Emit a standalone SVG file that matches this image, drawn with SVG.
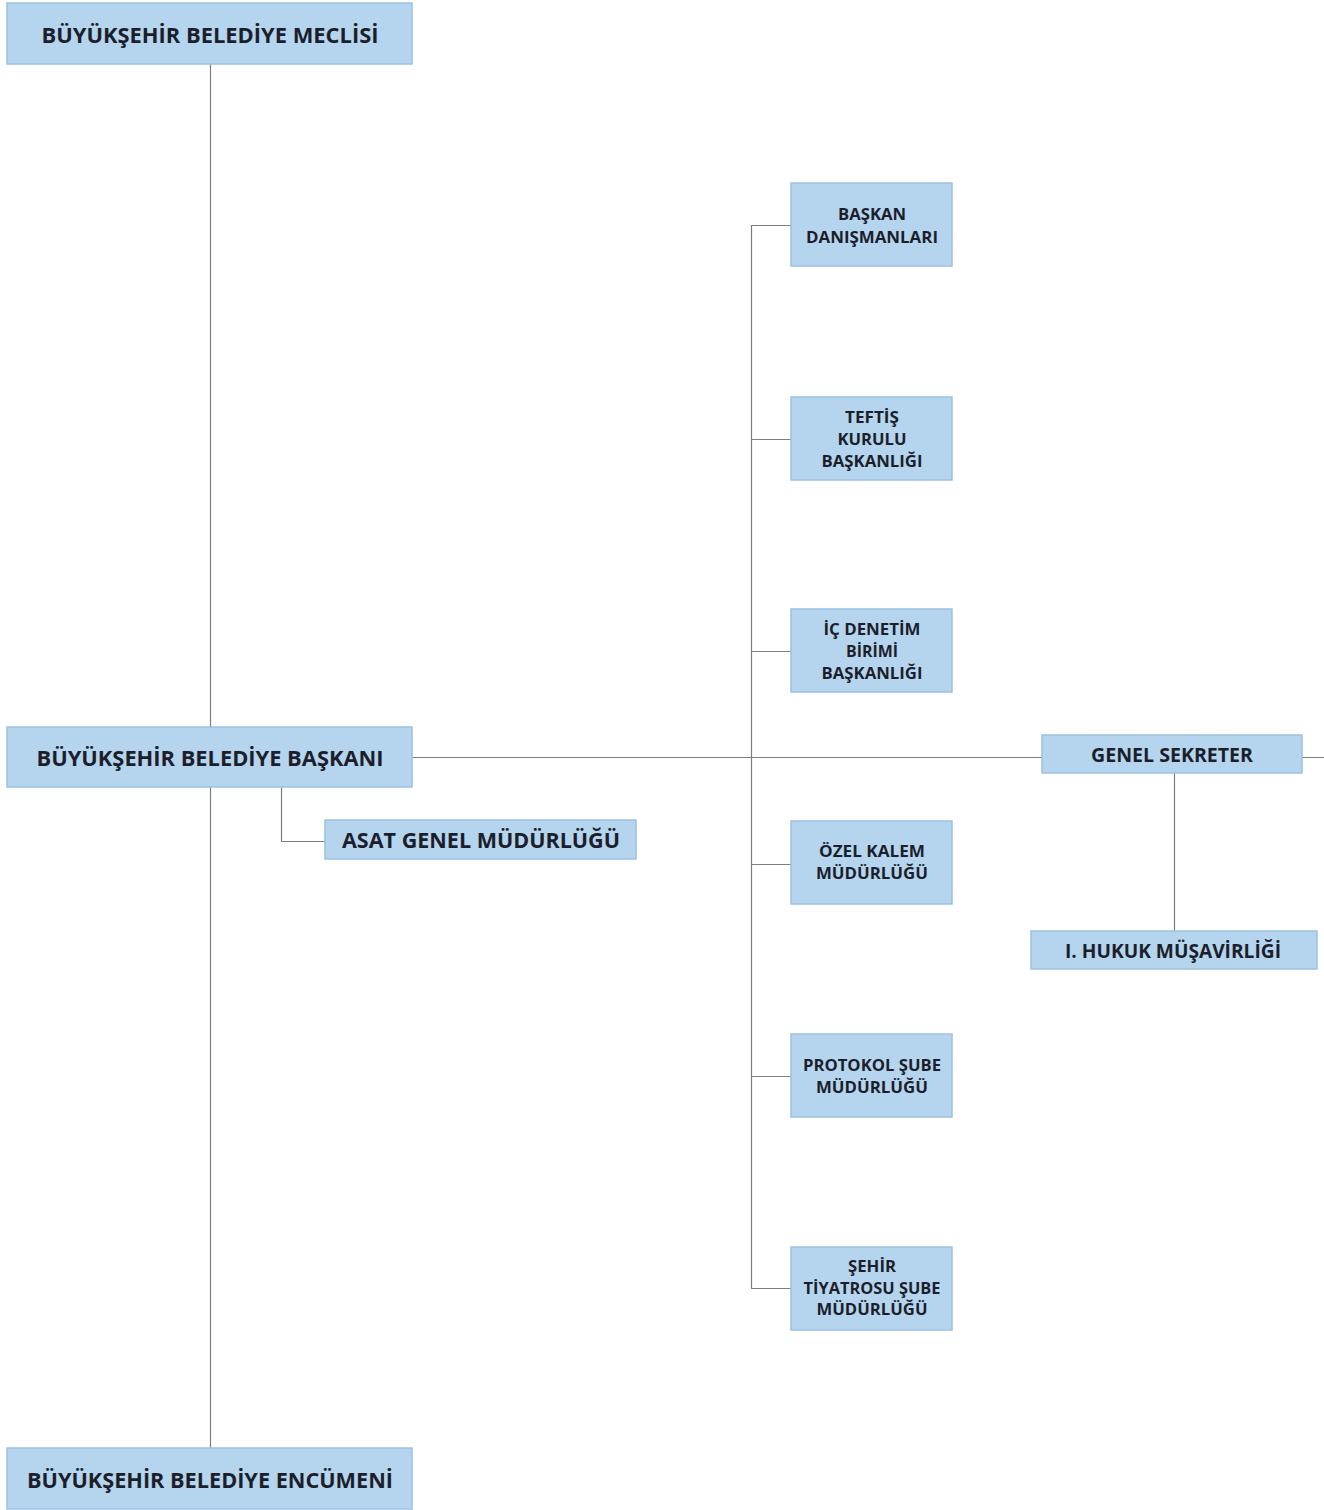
<svg xmlns="http://www.w3.org/2000/svg" width="1324" height="1510" viewBox="0 0 1324 1510">
<style>
.box{fill:#b5d5ef;stroke:#9cc1e2;stroke-width:1.5}
.t{font-family:"Open Sans","Liberation Sans",sans-serif;font-weight:700;fill:#1c1f2b;text-anchor:middle}
.big{font-size:21px}
.mid{font-size:19px}
.sm{font-size:16px}
.c{stroke:#7d7d85;stroke-width:1.2;fill:none}
</style>
<rect width="1324" height="1510" fill="#ffffff"/>
<g id="connectors">
<path class="c" d="M210.5 64V727M210.5 787V1448"/>
<path class="c" d="M412 757.5H1042M1302 757.5H1324"/>
<path class="c" d="M281.5 787V841.5H325"/>
<path class="c" d="M751.5 225V1288.5"/>
<path class="c" d="M751 225.5H791M751 439.5H791M751 651.5H791M751 864.5H791M751 1076.5H791M751 1288.5H791"/>
<path class="c" d="M1174.5 773V931"/>
</g>
<g id="meclis"><rect class="box" x="7" y="3" width="405" height="61"/><text class="t big" x="210" y="43" textLength="337" lengthAdjust="spacingAndGlyphs">BÜYÜKŞEHİR BELEDİYE MECLİSİ</text></g>
<g id="baskan"><rect class="box" x="7" y="727" width="405" height="60"/><text class="t big" x="210" y="766" textLength="347" lengthAdjust="spacingAndGlyphs">BÜYÜKŞEHİR BELEDİYE BAŞKANI</text></g>
<g id="encumen"><rect class="box" x="7" y="1448" width="405" height="61"/><text class="t big" x="210" y="1488" textLength="366" lengthAdjust="spacingAndGlyphs">BÜYÜKŞEHİR BELEDİYE ENCÜMENİ</text></g>
<g id="asat"><rect class="box" x="325" y="820" width="311" height="39"/><text class="t big" x="481" y="848" textLength="278" lengthAdjust="spacingAndGlyphs">ASAT GENEL MÜDÜRLÜĞÜ</text></g>
<g id="genelsekreter"><rect class="box" x="1042" y="735" width="260" height="38"/><text class="t mid" x="1172" y="762" textLength="162" lengthAdjust="spacingAndGlyphs">GENEL SEKRETER</text></g>
<g id="hukuk"><rect class="box" x="1031" y="931" width="286" height="38"/><text class="t mid" x="1173" y="958" textLength="216" lengthAdjust="spacingAndGlyphs">I. HUKUK MÜŞAVİRLİĞİ</text></g>
<g id="danismanlar"><rect class="box" x="791" y="183" width="161" height="83"/><text class="t sm" x="872" y="220" textLength="68" lengthAdjust="spacingAndGlyphs">BAŞKAN</text><text class="t sm" x="872" y="243" textLength="132" lengthAdjust="spacingAndGlyphs">DANIŞMANLARI</text></g>
<g id="teftis"><rect class="box" x="791" y="397" width="161" height="83"/><text class="t sm" x="872" y="423" textLength="54" lengthAdjust="spacingAndGlyphs">TEFTİŞ</text><text class="t sm" x="872" y="445" textLength="69" lengthAdjust="spacingAndGlyphs">KURULU</text><text class="t sm" x="872" y="467" textLength="101" lengthAdjust="spacingAndGlyphs">BAŞKANLIĞI</text></g>
<g id="icdenetim"><rect class="box" x="791" y="609" width="161" height="83"/><text class="t sm" x="872" y="635" textLength="97" lengthAdjust="spacingAndGlyphs">İÇ DENETİM</text><text class="t sm" x="872" y="657" textLength="52" lengthAdjust="spacingAndGlyphs">BİRİMİ</text><text class="t sm" x="872" y="679" textLength="101" lengthAdjust="spacingAndGlyphs">BAŞKANLIĞI</text></g>
<g id="ozelkalem"><rect class="box" x="791" y="821" width="161" height="83"/><text class="t sm" x="872" y="857" textLength="106" lengthAdjust="spacingAndGlyphs">ÖZEL KALEM</text><text class="t sm" x="872" y="879" textLength="112" lengthAdjust="spacingAndGlyphs">MÜDÜRLÜĞÜ</text></g>
<g id="protokol"><rect class="box" x="791" y="1034" width="161" height="83"/><text class="t sm" x="872" y="1071" textLength="138" lengthAdjust="spacingAndGlyphs">PROTOKOL ŞUBE</text><text class="t sm" x="872" y="1093" textLength="112" lengthAdjust="spacingAndGlyphs">MÜDÜRLÜĞÜ</text></g>
<g id="tiyatro"><rect class="box" x="791" y="1247" width="161" height="83"/><text class="t sm" x="872" y="1272" textLength="48" lengthAdjust="spacingAndGlyphs">ŞEHİR</text><text class="t sm" x="872" y="1294" textLength="137" lengthAdjust="spacingAndGlyphs">TİYATROSU ŞUBE</text><text class="t sm" x="872" y="1315" textLength="111" lengthAdjust="spacingAndGlyphs">MÜDÜRLÜĞÜ</text></g>
</svg>
